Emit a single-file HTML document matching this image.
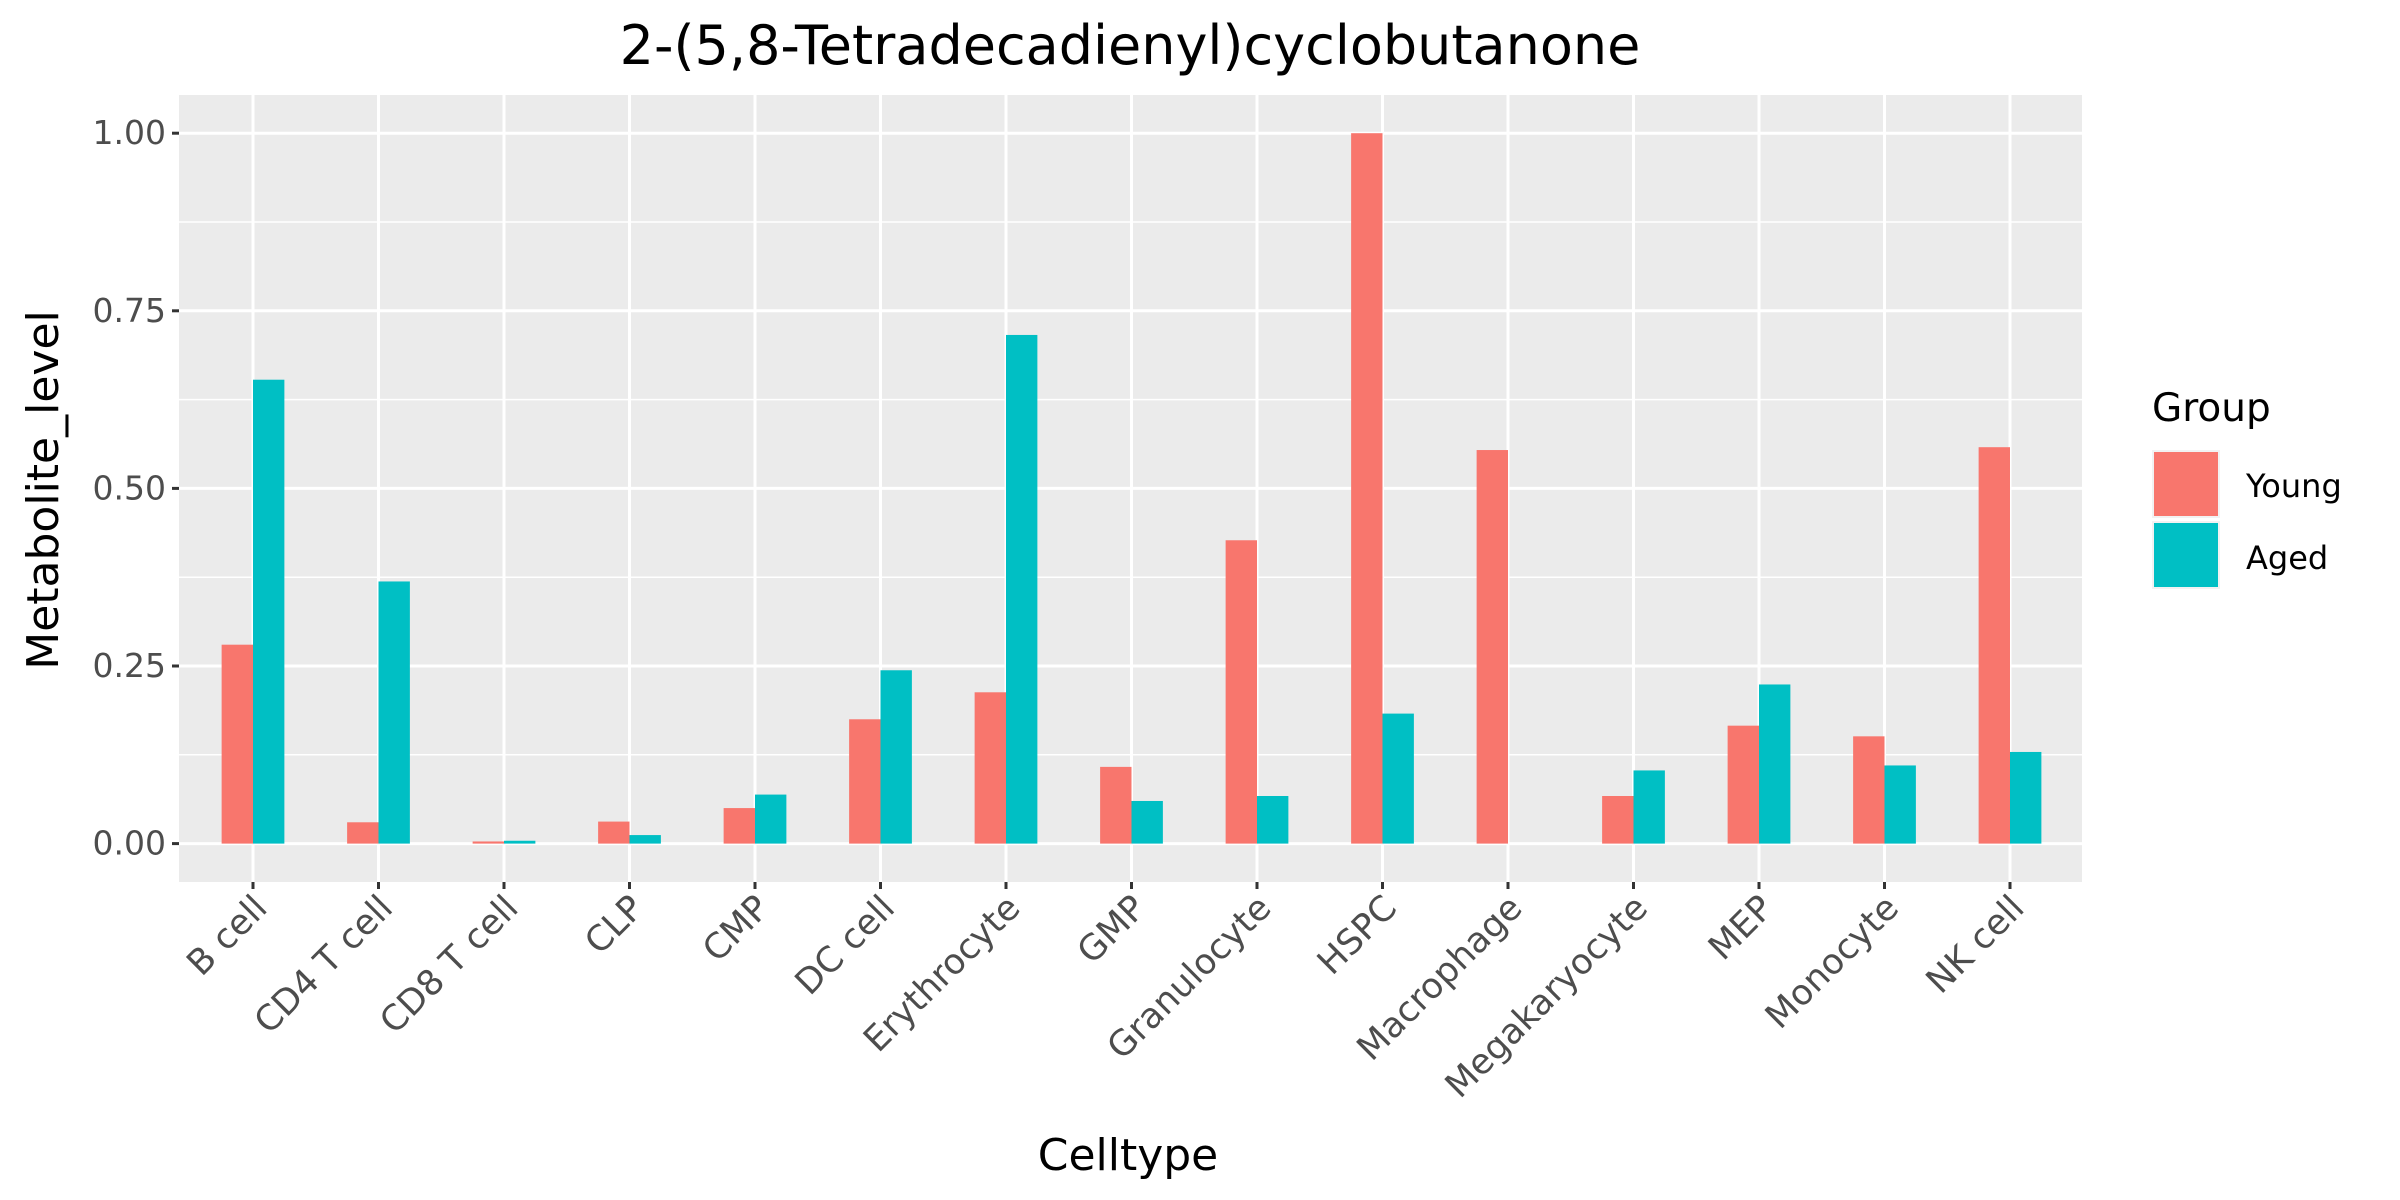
<!DOCTYPE html>
<html><head><meta charset="utf-8"><style>
body{margin:0;background:#fff;}
svg{display:block;font-family:"DejaVu Sans","Liberation Sans",sans-serif;}
</style></head><body>
<svg id="chart" width="2400" height="1200" viewBox="0 0 2400 1200">
<text x="1130" y="64" text-anchor="middle" font-size="54" fill="#000">2-(5,8-Tetradecadienyl)cyclobutanone</text>
<rect x="179" y="95" width="1903" height="787" fill="#ebebeb"/>
<g id="grid"></g>
<g id="bars"></g>
<g id="axes"></g>
<text x="1128" y="1170" text-anchor="middle" font-size="44" fill="#000">Celltype</text>
<text transform="translate(58,490) rotate(-90)" text-anchor="middle" font-size="44" fill="#000">Metabolite_level</text>
<g>
<text x="2152" y="421" font-size="39" fill="#000">Group</text>
<rect x="2152" y="450" width="68" height="68" fill="#f2f2f2"/>
<rect x="2154" y="452" width="64" height="64" fill="#F8766D"/>
<text x="2246" y="497" font-size="32" fill="#000">Young</text>
<rect x="2152" y="521" width="68" height="68" fill="#f2f2f2"/>
<rect x="2154" y="523" width="64" height="64" fill="#00BFC4"/>
<text x="2246" y="569" font-size="32" fill="#000">Aged</text>
</g>
</svg>
<script>
const categories = ["B cell","CD4 T cell","CD8 T cell","CLP","CMP","DC cell","Erythrocyte","GMP","Granulocyte","HSPC","Macrophage","Megakaryocyte","MEP","Monocyte","NK cell"];
const youngValues = [0.280,0.030,0.003,0.031,0.050,0.175,0.213,0.108,0.427,1.000,0.554,0.067,0.166,0.151,0.558];
const agedValues = [0.653,0.369,0.004,0.012,0.069,0.244,0.716,0.060,0.067,0.183,0.000,0.103,0.224,0.110,0.129];
const yTicks = [0,0.25,0.5,0.75,1.0];
const yTickLabels = ["0.00","0.25","0.50","0.75","1.00"];

const NS="http://www.w3.org/2000/svg";
const px0=179, px1=2082, py0=95, py1=882;
const step=(2010-253)/(categories.length-1);
function xScale(i){return 253+i*step;}
function yScale(v){return 843.6 - v*710.4;}
function mk(tag,attrs,parent){const e=document.createElementNS(NS,tag);for(const k in attrs)e.setAttribute(k,attrs[k]);parent.appendChild(e);return e;}
const grid=document.getElementById('grid'), bars=document.getElementById('bars'), axes=document.getElementById('axes');
for(let i=0;i<yTicks.length-1;i++){
  const y=yScale((yTicks[i]+yTicks[i+1])/2);
  const l=mk('line',{x1:px0,x2:px1,y1:y,y2:y,stroke:'#fff','stroke-width':1.5},grid);
  
  
}
yTicks.forEach((t,i)=>{
  const y=yScale(t);
  const l=mk('line',{x1:px0,x2:px1,y1:y,y2:y,stroke:'#fff','stroke-width':3},grid);
  
  
  const tk=mk('line',{x1:px0-7,x2:px0,y1:y,y2:y,stroke:'#333','stroke-width':3},axes);
  
  
  const tx=mk('text',{x:px0-13,y:y+11,'text-anchor':'end','font-size':33,fill:'#4d4d4d'},axes);
  tx.textContent=yTickLabels[i];
  
  
});
const bw=step*0.25;
categories.forEach((c,i)=>{
  const x=xScale(i);
  const g=mk('line',{x1:x,x2:x,y1:py0,y2:py1,stroke:'#fff','stroke-width':3},grid);
  
  
  const y0=yScale(0);
  const ry=yScale(youngValues[i]);
  const r1=mk('rect',{x:x-bw,y:ry,width:bw,height:Math.max(0,y0-ry),fill:'#F8766D'},bars);
  
  
  const ay=yScale(agedValues[i]);
  const r2=mk('rect',{x:x,y:ay,width:bw,height:Math.max(0,y0-ay),fill:'#00BFC4'},bars);
  
  
  const tk=mk('line',{x1:x,x2:x,y1:py1,y2:py1+7,stroke:'#333','stroke-width':3},axes);
  
  
  const tx=mk('text',{transform:`translate(${x+16},${py1+28}) rotate(-45)`,'text-anchor':'end','font-size':35,fill:'#4d4d4d'},axes);
  tx.textContent=c;
  
  
});
</script>
</body></html>
